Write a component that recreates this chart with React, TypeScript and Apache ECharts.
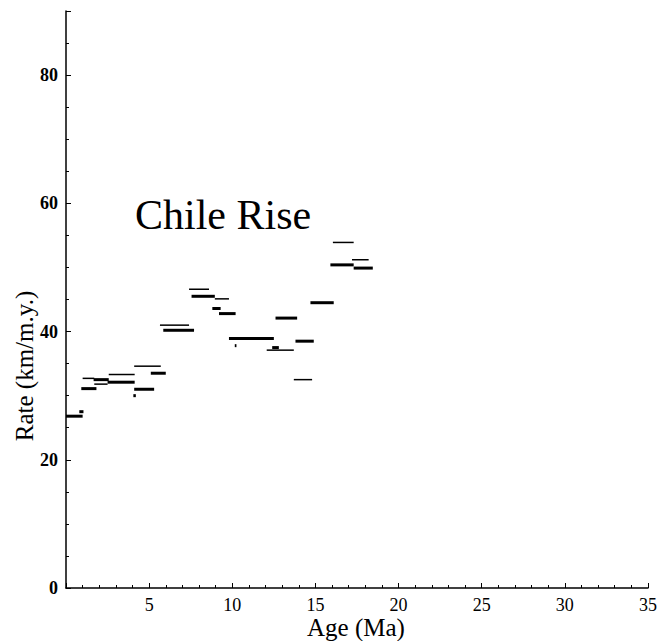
import React, { useEffect, useRef } from "react";
import * as echarts from "echarts";

// Segment data: start age (Ma), end age (Ma), rate (km/m.y.), weight (1 = thick, 0 = thin)
const segStart = [0.0, 0.8, 0.92, 1.0, 1.66, 1.7, 2.57, 2.5, 4.1, 4.05, 4.1, 5.1, 5.65, 5.85, 7.4, 7.55, 8.95, 8.8, 9.2, 9.8, 10.15, 12.07, 12.4, 12.6, 13.7, 13.8, 14.7, 15.9, 16.05, 17.2, 17.3];
const segEnd = [1.0, 1.05, 1.83, 1.7, 2.57, 2.5, 4.13, 4.13, 5.3, 4.2, 5.7, 6.0, 7.4, 7.7, 8.6, 8.95, 9.8, 9.3, 10.2, 12.5, 10.25, 13.7, 12.8, 13.9, 14.8, 14.9, 16.1, 17.3, 17.3, 18.2, 18.45];
const segRate = [26.8, 27.5, 31.1, 32.7, 32.5, 31.8, 33.3, 32.1, 31.0, 30.0, 34.6, 33.5, 41.0, 40.2, 46.6, 45.5, 45.1, 43.6, 42.8, 38.9, 37.8, 37.1, 37.5, 42.1, 32.5, 38.5, 44.5, 50.4, 53.9, 51.2, 49.9];
const segWeight = [1, 1, 1, 0, 1, 0, 0, 1, 1, 1, 0, 1, 0, 1, 0, 1, 0, 1, 1, 1, 1, 0, 1, 1, 0, 1, 1, 1, 0, 0, 1];

const xTicks = [5, 10, 15, 20, 25, 30, 35];
const yTicks = [0, 20, 40, 60, 80];

export default function App() {
  const ref = useRef<HTMLDivElement>(null);
  useEffect(() => {
    if (!ref.current) return;
    const chart = echarts.init(ref.current, null, { renderer: "svg" });
    const data = segStart.map((s, i) => [s, segEnd[i], segRate[i], segWeight[i]]);
    const font = "Liberation Serif";
    chart.setOption({
      animation: false,
      backgroundColor: "#ffffff",
      grid: { left: 66, right: 12, top: 11, bottom: 53 },
      xAxis: {
        type: "value",
        min: 0,
        max: 35,
        interval: 5,
        axisLine: { show: true, onZero: false, lineStyle: { color: "#000", width: 1.5 } },
        axisTick: { show: true, inside: true, length: 5, lineStyle: { color: "#000" } },
        minorTick: { show: true, splitNumber: 5, length: 3, lineStyle: { color: "#000" } },
        splitLine: { show: false },
        axisLabel: {
          color: "#000",
          fontFamily: font,
          fontSize: 18,
          margin: 8,
          showMinLabel: false,
          formatter: (v: number) => (xTicks.includes(v) ? String(v) : ""),
        },
      },
      yAxis: {
        type: "value",
        min: 0,
        max: 90,
        interval: 20,
        axisLine: { show: true, onZero: false, lineStyle: { color: "#000", width: 1.5 } },
        axisTick: { show: true, inside: true, length: 5, lineStyle: { color: "#000" } },
        minorTick: { show: true, splitNumber: 4, length: 3, lineStyle: { color: "#000" } },
        splitLine: { show: false },
        axisLabel: {
          color: "#000",
          fontFamily: font,
          fontSize: 18,
          fontWeight: "bold",
          margin: 8,
          showMaxLabel: false,
          formatter: (v: number) => (yTicks.includes(v) ? String(v) : ""),
        },
      },
      graphic: [
        {
          type: "text",
          left: 135,
          top: 194,
          style: { text: "Chile Rise", fontFamily: font, fontSize: 42, fill: "#000" },
        },
        {
          type: "text",
          x: 356,
          y: 627,
          style: {
            text: "Age (Ma)",
            fontFamily: font,
            fontSize: 25,
            fill: "#000",
            align: "center",
            verticalAlign: "middle",
          },
        },
        {
          type: "text",
          x: 24,
          y: 366,
          rotation: Math.PI / 2,
          style: {
            text: "Rate (km/m.y.)",
            fontFamily: font,
            fontSize: 25,
            fill: "#000",
            align: "center",
            verticalAlign: "middle",
          },
        },
      ],
      series: [
        {
          type: "custom",
          data,
          encode: { x: [0, 1], y: 2 },
          renderItem: (params: any, api: any) => {
            const p1 = api.coord([api.value(0), api.value(2)]);
            const p2 = api.coord([api.value(1), api.value(2)]);
            const thick = api.value(3) === 1;
            return {
              type: "line",
              shape: { x1: p1[0], y1: p1[1], x2: p2[0], y2: p2[1] },
              style: { stroke: "#000", lineWidth: thick ? 3 : 1.5 },
            };
          },
        },
      ],
    });
    return () => chart.dispose();
  }, []);
  return (
    <div
      ref={ref}
      style={{ position: "fixed", left: 0, top: 0, width: 660, height: 641 }}
    />
  );
}
